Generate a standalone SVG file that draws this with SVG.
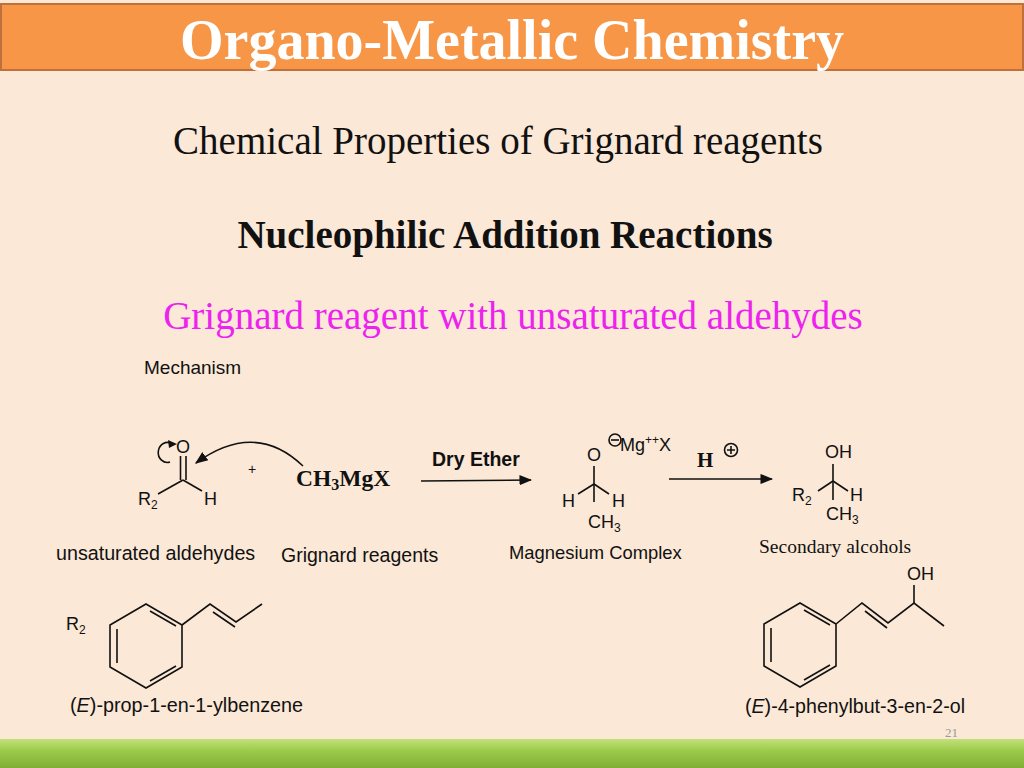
<svg xmlns="http://www.w3.org/2000/svg" width="1024" height="768" viewBox="0 0 1024 768">
<defs>
<style>
.s{font-family:"Liberation Sans",Arial,sans-serif;fill:#111}
.t{font-family:"Liberation Serif","Times New Roman",serif;fill:#111}
.b{stroke:#111;stroke-width:1.6;fill:none}
</style>
<marker id="ah" viewBox="0 0 10 10" refX="9" refY="5" markerWidth="8" markerHeight="8" orient="auto"><path d="M0,1 L10,5 L0,9 Z" fill="#111"/></marker>
<linearGradient id="g" x1="0" y1="0" x2="0" y2="1"><stop offset="0" stop-color="#c3e07a"/><stop offset="0.4" stop-color="#9ccb4a"/><stop offset="1" stop-color="#7fae35"/></linearGradient>
</defs>
<rect width="1024" height="768" fill="#fbe8d6"/>
<rect x="1" y="4" width="1022" height="66" fill="#f79646" stroke="#c0703a" stroke-width="2"/>
<text x="512" y="59" text-anchor="middle" font-family="Liberation Serif,serif" font-weight="bold" font-size="56" fill="#fff">Organo-Metallic Chemistry</text>
<text x="498" y="154" text-anchor="middle" class="t" font-size="39">Chemical Properties of Grignard reagents</text>
<text x="505" y="248" text-anchor="middle" class="t" font-size="39" font-weight="bold">Nucleophilic Addition Reactions</text>
<text x="513" y="329" text-anchor="middle" font-family="Liberation Serif,serif" font-size="39" fill="#ee22ee">Grignard reagent with  unsaturated aldehydes</text>
<text x="144" y="374" class="s" font-size="19">Mechanism</text>
<g id="aldehyde">
<text x="176" y="453" class="s" font-size="18">O</text>
<line x1="180.5" y1="456" x2="180.5" y2="480" class="b"/><line x1="186" y1="456" x2="186" y2="480" class="b"/>
<line x1="183" y1="480" x2="158" y2="494" class="b"/><line x1="183" y1="480" x2="202" y2="491" class="b"/>
<text x="138" y="505" class="s" font-size="18">R<tspan font-size="12" dy="4">2</tspan></text>
<text x="204" y="505" class="s" font-size="18">H</text>
<path d="M172,444 A9,10 0 1 0 170,462" class="b"/>
<path d="M168,440 L177,444 L169,448 Z" fill="#111"/>
<text x="248" y="474" class="s" font-size="14">+</text>
<text x="56" y="560" class="s" font-size="19.7">unsaturated aldehydes</text>
</g>
<g id="grignard">
<text x="296" y="486" class="t" font-size="23.5" font-weight="bold">CH<tspan font-size="16" dy="4">3</tspan><tspan dy="-4">MgX</tspan></text>
<text x="281" y="562" class="s" font-size="19.5">Grignard reagents</text>
</g>
<g id="complex">
<text x="587" y="461" class="s" font-size="18">O</text>
<circle cx="615" cy="440" r="6" class="b" stroke-width="1"/><line x1="611" y1="440" x2="619" y2="440" class="b" stroke-width="1"/>
<text x="620" y="451" class="s" font-size="18">Mg<tspan font-size="12" dy="-7">++</tspan><tspan dy="7">X</tspan></text>
<line x1="594" y1="466" x2="594" y2="502" class="b"/>
<line x1="594" y1="484" x2="578" y2="494" class="b"/><line x1="594" y1="484" x2="609" y2="494" class="b"/>
<text x="562" y="507" class="s" font-size="18">H</text><text x="612" y="507" class="s" font-size="18">H</text>
<text x="588" y="528" class="s" font-size="18">CH<tspan font-size="12" dy="4">3</tspan></text>
<text x="509" y="559" class="s" font-size="18.4">Magnesium Complex</text>
</g>
<g id="alcohol">
<text x="825" y="458" class="s" font-size="18">OH</text>
<line x1="833" y1="464" x2="833" y2="500" class="b"/>
<line x1="833" y1="481" x2="818" y2="491" class="b"/><line x1="833" y1="481" x2="848" y2="491" class="b"/>
<text x="792" y="501" class="s" font-size="18">R<tspan font-size="12" dy="4">2</tspan></text>
<text x="850" y="501" class="s" font-size="18">H</text>
<text x="826" y="520" class="s" font-size="18">CH<tspan font-size="12" dy="4">3</tspan></text>
<text x="759" y="553" class="t" font-size="19.5">Secondary alcohols</text>
</g>
<g id="propenylbenzene">
<text x="66" y="630" class="s" font-size="18">R<tspan font-size="12" dy="4">2</tspan></text>
<path d="M146,604 L182,625 L182,667 L146,688 L110,667 L110,625 Z" class="b"/>
<line x1="117" y1="629" x2="117" y2="663" class="b"/><line x1="150" y1="681" x2="176" y2="666" class="b"/><line x1="150" y1="611" x2="176" y2="626" class="b"/>
<path d="M182,625 L210,604 L236,622 L262,604" class="b"/><line x1="213" y1="612" x2="235" y2="627" class="b"/>
<text x="70" y="712" class="s" font-size="19.8">(<tspan font-style="italic">E</tspan>)-prop-1-en-1-ylbenzene</text>
</g>
<g id="phenylbutenol">
<text x="907" y="580" class="s" font-size="18">OH</text>
<path d="M800,603 L836,624 L836,666 L800,687 L764,666 L764,624 Z" class="b"/>
<line x1="771" y1="628" x2="771" y2="662" class="b"/><line x1="804" y1="680" x2="830" y2="665" class="b"/><line x1="804" y1="610" x2="830" y2="625" class="b"/>
<path d="M836,624 L862,603 L888,623 L914,603 L944,626" class="b"/><line x1="865" y1="611" x2="887" y2="628" class="b"/>
<line x1="914" y1="603" x2="914" y2="585" class="b"/>
<text x="745" y="713" class="s" font-size="19.6">(<tspan font-style="italic">E</tspan>)-4-phenylbut-3-en-2-ol</text>
</g>
<g id="connectors">
<path d="M303,466 Q255,420 196,463" class="b" marker-end="url(#ah)"/>
<line x1="421" y1="481" x2="531" y2="480" class="b" marker-end="url(#ah)"/>
<text x="432" y="466" class="s" font-size="19.5" font-weight="bold">Dry Ether</text>
<line x1="669" y1="479" x2="772" y2="479" class="b" marker-end="url(#ah)"/>
<text x="697" y="467" class="t" font-size="21" font-weight="bold">H</text>
<circle cx="731" cy="450" r="6.5" class="b" stroke-width="1"/><path d="M727,450 H735 M731,446 V454" class="b" stroke-width="1"/>
</g>
<text x="945" y="737" font-family="Liberation Serif,serif" font-size="13" fill="#999">21</text>
<rect x="0" y="739" width="1024" height="29" fill="url(#g)"/>
</svg>
